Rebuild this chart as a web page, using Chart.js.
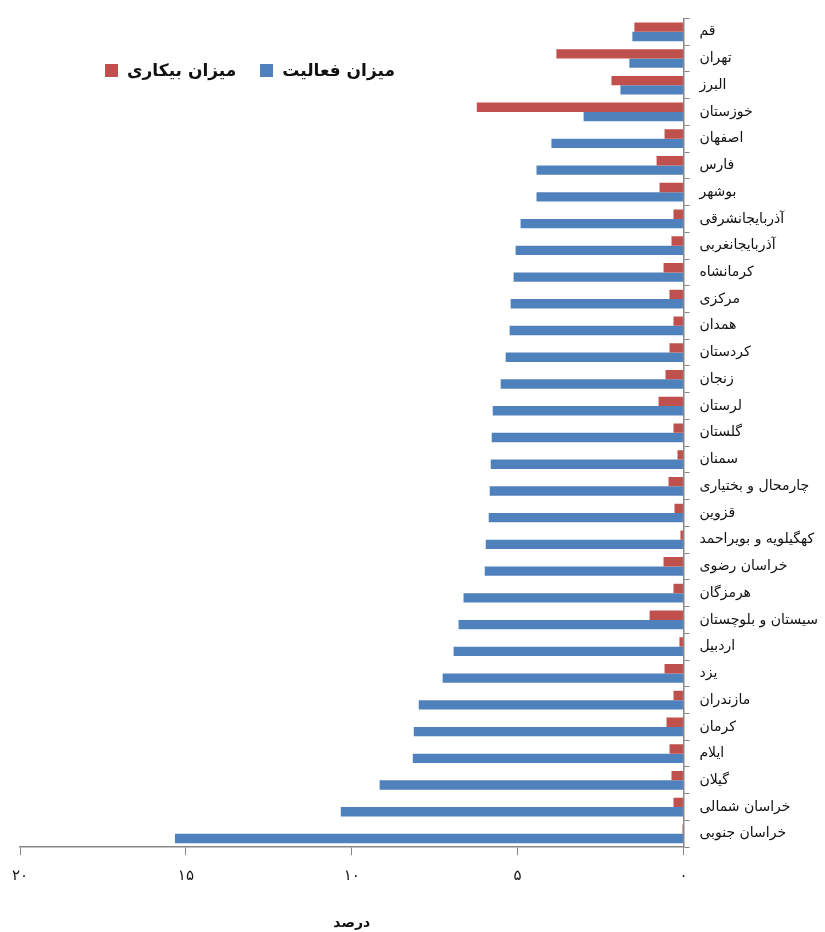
<!DOCTYPE html>
<html lang="fa">
<head>
<meta charset="utf-8">
<title>میزان فعالیت و بیکاری استان‌ها</title>
<script src="https://cdn.jsdelivr.net/npm/chart.js@4/dist/chart.umd.min.js"></script>
<style>
  body { margin: 0; background: #fff; }
  #wrap { position: relative; width: 825px; height: 932px; }
  #legend {
    position: absolute; left: 105px; top: 60px;
    display: flex; direction: rtl; gap: 24px;
    font-family: 'DejaVu Sans', sans-serif; font-weight: bold; font-size: 17px; color: #111;
  }
  #legend span.item { display: flex; direction: ltr; align-items: center; gap: 9px; }
  #legend span.box { width: 13px; height: 13px; display: inline-block; }
</style>
</head>
<body>
<div id="wrap">
  <canvas id="chart" width="825" height="932"></canvas>
  <div id="legend"></div>
</div>
<script>
// provinces, top to bottom
const provinces = [
    'قم', 'تهران', 'البرز', 'خوزستان', 'اصفهان', 'فارس', 'بوشهر',
    'آذربایجانشرقی', 'آذربایجانغربی', 'کرمانشاه', 'مرکزی', 'همدان', 'کردستان',
    'زنجان', 'لرستان', 'گلستان', 'سمنان', 'چارمحال و بختیاری', 'قزوین',
    'کهگیلویه و بویراحمد', 'خراسان رضوی', 'هرمزگان', 'سیستان و بلوچستان',
    'اردبیل', 'یزد', 'مازندران', 'کرمان', 'ایلام', 'گیلان', 'خراسان شمالی', 'خراسان جنوبی'
];

// میزان بیکاری (%)
const unemployment = [
    1.48, 3.83, 2.17, 6.23, 0.57, 0.81, 0.72,
    0.30, 0.36, 0.60, 0.42, 0.30, 0.42,
    0.54, 0.75, 0.30, 0.18, 0.45, 0.27,
    0.09, 0.60, 0.30, 1.02,
    0.12, 0.57, 0.30, 0.51, 0.42, 0.36, 0.30, 0.03
];

// میزان فعالیت (%)
const activity = [
    1.54, 1.63, 1.90, 3.01, 3.98, 4.43, 4.43,
    4.91, 5.06, 5.12, 5.21, 5.24, 5.36,
    5.51, 5.75, 5.78, 5.81, 5.84, 5.87,
    5.96, 5.99, 6.63, 6.78,
    6.93, 7.26, 7.98, 8.13, 8.16, 9.16, 10.33, 15.33
];

const xTickLabels = ['۰', '۵', '۱۰', '۱۵', '۲۰'];
const seriesNames = ['میزان بیکاری', 'میزان فعالیت'];
const seriesColors = ['#C0504D', '#4F81BD'];
const axisColor = '#868686';
const fontFamily = "'DejaVu Sans', sans-serif";

const ctx = document.getElementById('chart').getContext('2d');
new Chart(ctx, {
    type: 'bar',
    data: {
        labels: provinces,
        datasets: [
            { label: seriesNames[0], data: unemployment, backgroundColor: seriesColors[0] },
            { label: seriesNames[1], data: activity, backgroundColor: seriesColors[1] }
        ]
    },
    options: {
        indexAxis: 'y',
        responsive: false,
        animation: false,
        categoryPercentage: 0.7,
        barPercentage: 1.0,
        layout: { padding: { top: 15, left: 8, right: -3, bottom: 0 } },
        plugins: {
            legend: { display: false },
            tooltip: { enabled: false }
        },
        scales: {
            x: {
                reverse: true,
                min: 0,
                max: 20,
                border: { color: axisColor, width: 1.5 },
                grid: { drawOnChartArea: false, drawTicks: true, tickLength: 8, color: axisColor },
                ticks: {
                    stepSize: 5,
                    padding: 12,
                    color: '#111',
                    font: { family: fontFamily, size: 15 },
                    callback: value => xTickLabels[value / 5]
                },
                title: {
                    display: true,
                    text: 'درصد',
                    color: '#111',
                    padding: { top: 18, bottom: 0 },
                    font: { family: fontFamily, size: 14, weight: 'bold' }
                }
            },
            y: {
                position: 'right',
                border: { color: axisColor, width: 1.5 },
                grid: { drawOnChartArea: false, drawTicks: true, tickLength: 6, color: axisColor, offset: true },
                ticks: {
                    padding: 10,
                    color: '#111',
                    autoSkip: false,
                    font: { family: fontFamily, size: 14 }
                }
            }
        }
    }
});

// legend: blue item first on the right, swatch left of its text
const legend = document.getElementById('legend');
[1, 0].forEach(i => {
    const item = document.createElement('span');
    item.className = 'item';
    item.innerHTML = '<span class="box" style="background:' + seriesColors[i] + '"></span><span>' + seriesNames[i] + '</span>';
    legend.appendChild(item);
});
</script>
</body>
</html>
